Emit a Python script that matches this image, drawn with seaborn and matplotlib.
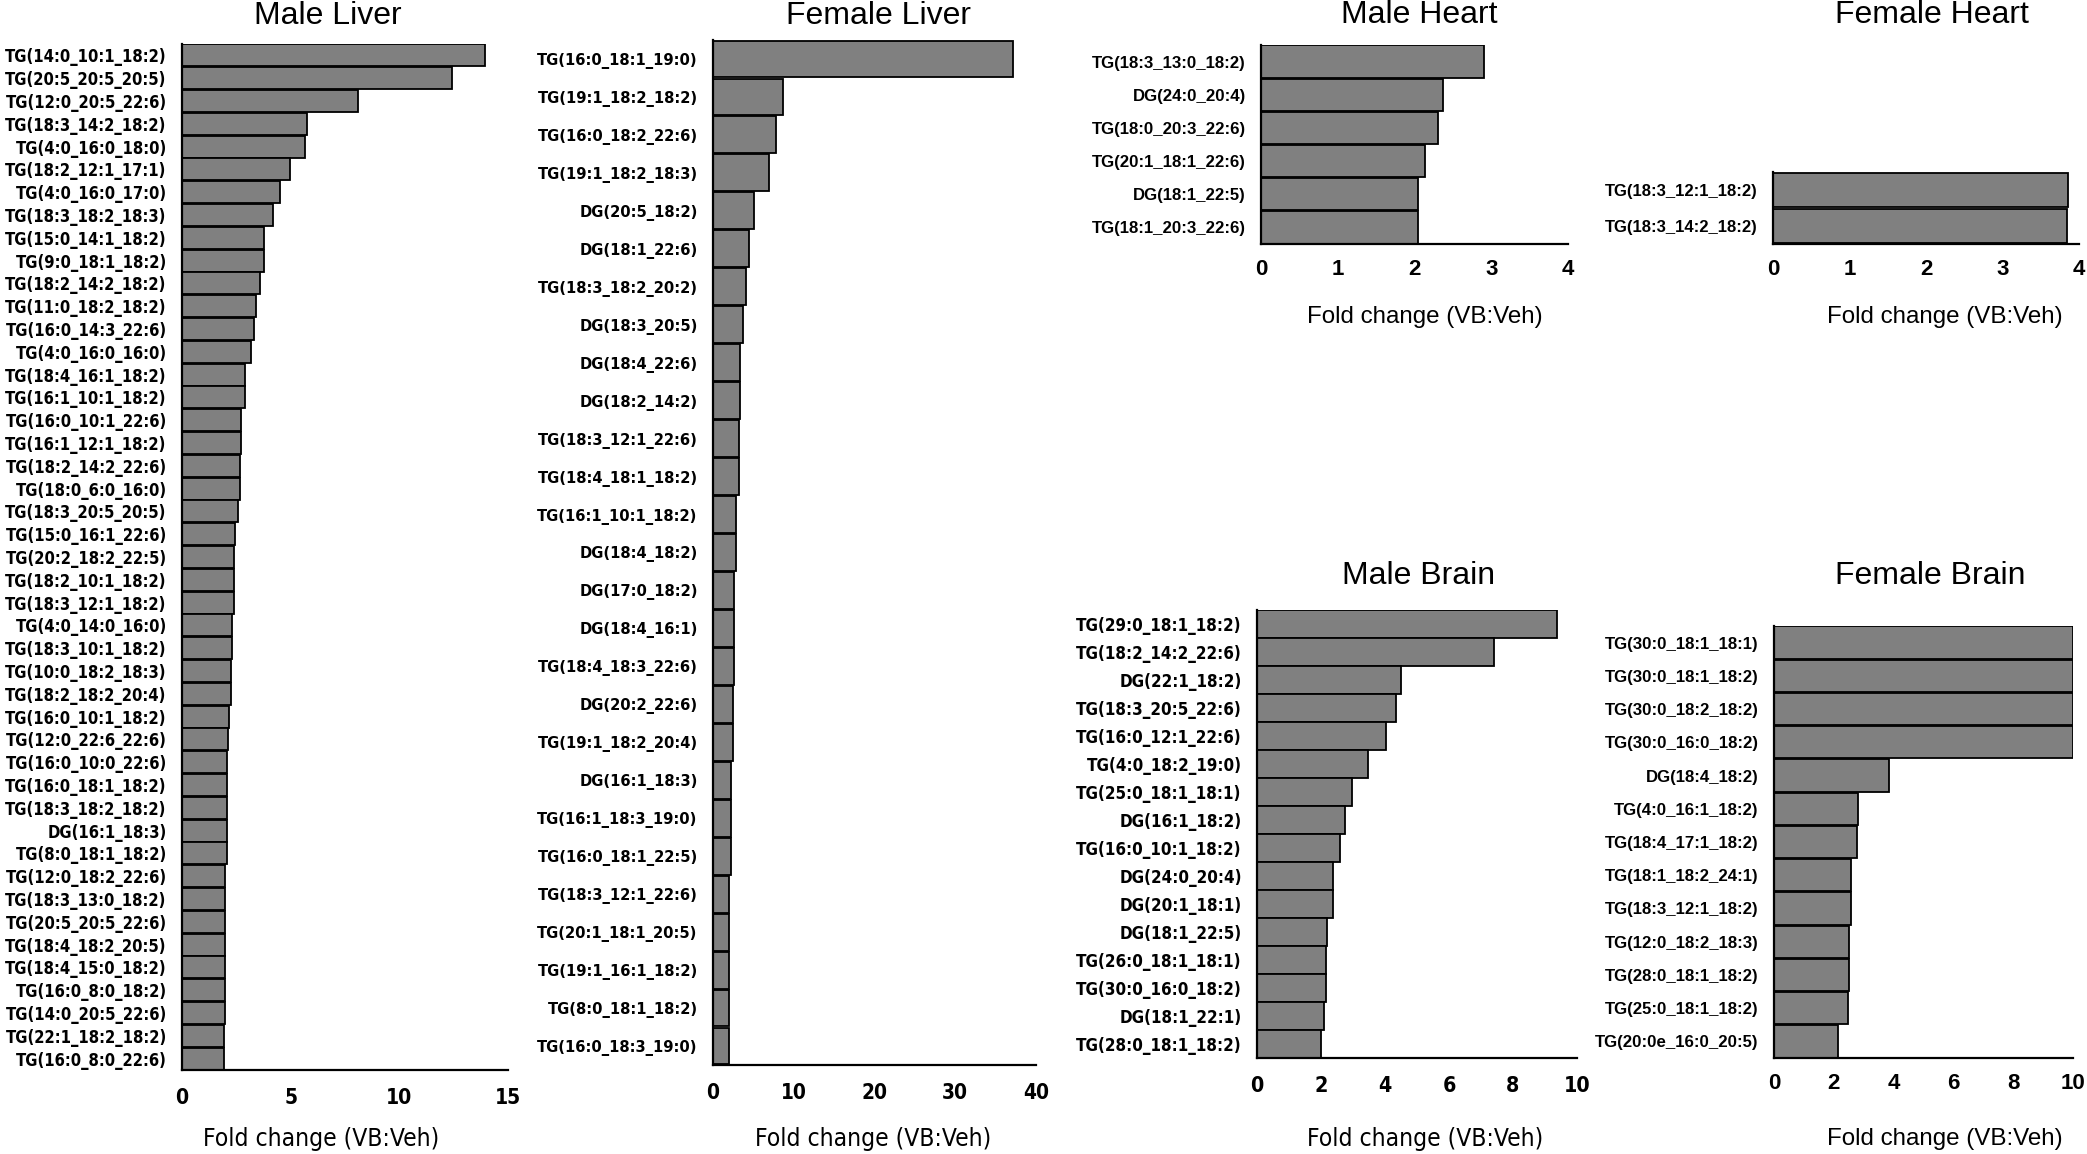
import os
import matplotlib
matplotlib.use("Agg")
import matplotlib.pyplot as plt
from matplotlib import font_manager as fm
import seaborn as sns
import pandas as pd

# ---------------- data ----------------
male_liver_labels = [
    "TG(14:0_10:1_18:2)", "TG(20:5_20:5_20:5)", "TG(12:0_20:5_22:6)", "TG(18:3_14:2_18:2)",
    "TG(4:0_16:0_18:0)", "TG(18:2_12:1_17:1)", "TG(4:0_16:0_17:0)", "TG(18:3_18:2_18:3)",
    "TG(15:0_14:1_18:2)", "TG(9:0_18:1_18:2)", "TG(18:2_14:2_18:2)", "TG(11:0_18:2_18:2)",
    "TG(16:0_14:3_22:6)", "TG(4:0_16:0_16:0)", "TG(18:4_16:1_18:2)", "TG(16:1_10:1_18:2)",
    "TG(16:0_10:1_22:6)", "TG(16:1_12:1_18:2)", "TG(18:2_14:2_22:6)", "TG(18:0_6:0_16:0)",
    "TG(18:3_20:5_20:5)", "TG(15:0_16:1_22:6)", "TG(20:2_18:2_22:5)", "TG(18:2_10:1_18:2)",
    "TG(18:3_12:1_18:2)", "TG(4:0_14:0_16:0)", "TG(18:3_10:1_18:2)", "TG(10:0_18:2_18:3)",
    "TG(18:2_18:2_20:4)", "TG(16:0_10:1_18:2)", "TG(12:0_22:6_22:6)", "TG(16:0_10:0_22:6)",
    "TG(16:0_18:1_18:2)", "TG(18:3_18:2_18:2)", "DG(16:1_18:3)", "TG(8:0_18:1_18:2)",
    "TG(12:0_18:2_22:6)", "TG(18:3_13:0_18:2)", "TG(20:5_20:5_22:6)", "TG(18:4_18:2_20:5)",
    "TG(18:4_15:0_18:2)", "TG(16:0_8:0_18:2)", "TG(14:0_20:5_22:6)", "TG(22:1_18:2_18:2)",
    "TG(16:0_8:0_22:6)",
]
male_liver_values = [
    13.93, 12.42, 8.12, 5.77, 5.64, 4.98, 4.50, 4.19,
    3.75, 3.75, 3.60, 3.41, 3.29, 3.18, 2.88, 2.88,
    2.73, 2.73, 2.65, 2.65, 2.58, 2.45, 2.38, 2.38,
    2.38, 2.32, 2.32, 2.24, 2.24, 2.17, 2.12, 2.05,
    2.05, 2.05, 2.05, 2.05, 1.97, 1.97, 1.97, 1.97,
    1.97, 1.97, 1.97, 1.91, 1.91,
]

female_liver_labels = [
    "TG(16:0_18:1_19:0)", "TG(19:1_18:2_18:2)", "TG(16:0_18:2_22:6)", "TG(19:1_18:2_18:3)",
    "DG(20:5_18:2)", "DG(18:1_22:6)", "TG(18:3_18:2_20:2)", "DG(18:3_20:5)",
    "DG(18:4_22:6)", "DG(18:2_14:2)", "TG(18:3_12:1_22:6)", "TG(18:4_18:1_18:2)",
    "TG(16:1_10:1_18:2)", "DG(18:4_18:2)", "DG(17:0_18:2)", "DG(18:4_16:1)",
    "TG(18:4_18:3_22:6)", "DG(20:2_22:6)", "TG(19:1_18:2_20:4)", "DG(16:1_18:3)",
    "TG(16:1_18:3_19:0)", "TG(16:0_18:1_22:5)", "TG(18:3_12:1_22:6)", "TG(20:1_18:1_20:5)",
    "TG(19:1_16:1_18:2)", "TG(8:0_18:1_18:2)", "TG(16:0_18:3_19:0)",
]
female_liver_values = [
    37.1, 8.66, 7.83, 6.92, 5.06, 4.52, 4.14, 3.73,
    3.40, 3.40, 3.23, 3.23, 2.82, 2.82, 2.61, 2.61,
    2.61, 2.45, 2.45, 2.28, 2.28, 2.28, 2.04, 2.04,
    2.04, 2.04, 2.04,
]

male_heart_labels = [
    "TG(18:3_13:0_18:2)", "DG(24:0_20:4)", "TG(18:0_20:3_22:6)",
    "TG(20:1_18:1_22:6)", "DG(18:1_22:5)", "TG(18:1_20:3_22:6)",
]
male_heart_values = [2.91, 2.37, 2.30, 2.14, 2.04, 2.04]

female_heart_labels = ["TG(18:3_12:1_18:2)", "TG(18:3_14:2_18:2)"]
female_heart_values = [3.86, 3.84]

male_brain_labels = [
    "TG(29:0_18:1_18:2)", "TG(18:2_14:2_22:6)", "DG(22:1_18:2)", "TG(18:3_20:5_22:6)",
    "TG(16:0_12:1_22:6)", "TG(4:0_18:2_19:0)", "TG(25:0_18:1_18:1)", "DG(16:1_18:2)",
    "TG(16:0_10:1_18:2)", "DG(24:0_20:4)", "DG(20:1_18:1)", "DG(18:1_22:5)",
    "TG(26:0_18:1_18:1)", "TG(30:0_16:0_18:2)", "DG(18:1_22:1)", "TG(28:0_18:1_18:2)",
]
male_brain_values = [
    9.38, 7.42, 4.50, 4.33, 4.04, 3.46, 2.96, 2.75,
    2.58, 2.38, 2.38, 2.20, 2.17, 2.17, 2.10, 2.00,
]

female_brain_labels = [
    "TG(30:0_18:1_18:1)", "TG(30:0_18:1_18:2)", "TG(30:0_18:2_18:2)", "TG(30:0_16:0_18:2)",
    "DG(18:4_18:2)", "TG(4:0_16:1_18:2)", "TG(18:4_17:1_18:2)", "TG(18:1_18:2_24:1)",
    "TG(18:3_12:1_18:2)", "TG(12:0_18:2_18:3)", "TG(28:0_18:1_18:2)", "TG(25:0_18:1_18:2)",
    "TG(20:0e_16:0_20:5)",
]
female_brain_values = [
    10.0, 10.0, 10.0, 10.0, 3.84, 2.81, 2.77, 2.59,
    2.59, 2.50, 2.50, 2.46, 2.14,
]

titles = ["Male Liver", "Female Liver", "Male Heart", "Female Heart", "Male Brain", "Female Brain"]
xlabel_text = "Fold change (VB:Veh)"
xticks_list = [[0, 5, 10, 15], [0, 10, 20, 30, 40], [0, 1, 2, 3, 4], [0, 1, 2, 3, 4],
               [0, 2, 4, 6, 8, 10], [0, 2, 4, 6, 8, 10]]

# ---------------- fonts ----------------
sns.set_theme(style="white")
REG = "Liberation Sans"
plt.rcParams["font.family"] = [REG, "DejaVu Sans"]


def _wnum(w):
    if isinstance(w, (int, float)):
        return w
    return fm.weight_dict.get(str(w).lower(), 400)


def find_condensed(bold):
    pref = ["liberation sans narrow", "arial narrow", "dejavu sans", "noto sans",
            "open sans", "roboto", "lato", "inter", "liberation sans"]
    best = None
    for f in fm.fontManager.ttflist:
        nm = f.name.lower()
        fn = os.path.basename(f.fname).lower()
        if any(k in nm for k in ("mono", "serif", "cjk", "math")) or "mono" in fn:
            continue
        if f.style != "normal" or "italic" in fn or "oblique" in fn:
            continue
        st = f.stretch
        cond = ("narrow" in nm or "condensed" in nm or "narrow" in fn or "condensed" in fn
                or "cond" in fn or st in ("condensed", "semi-condensed", "extra-condensed")
                or (isinstance(st, (int, float)) and st < 500))
        if not cond:
            continue
        w = _wnum(f.weight)
        if bold and not (600 <= w <= 750):
            continue
        if not bold and not (380 <= w <= 450):
            continue
        rank = len(pref)
        for k, p in enumerate(pref):
            if nm.startswith(p):
                rank = k
                break
        if best is None or rank < best[0]:
            best = (rank, f.fname)
    return best[1] if best else None


cb = find_condensed(True)
cr = find_condensed(False)
fp_nb = fm.FontProperties(fname=cb) if cb else fm.FontProperties(family=REG, weight="bold")
fp_nr = fm.FontProperties(fname=cr) if cr else fm.FontProperties(family=REG)
fp_b = fm.FontProperties(family=REG, weight="bold")
fp_r = fm.FontProperties(family=REG)

W, H = 2087, 1154
fig = plt.figure(figsize=(W / 100, H / 100), dpi=100)
renderer = fig.canvas.get_renderer()


def fit_size(fp, text, target_px):
    f = fp.copy()
    f.set_size(20)
    t = fig.text(0, 0, text, fontproperties=f)
    w = t.get_window_extent(renderer).width
    t.remove()
    return 20 * target_px / w


# ---------------- layout ----------------
boxes = [
    (182, 508, 44, 1070),
    (713, 1036, 40, 1065),
    (1261, 1568, 45, 244),
    (1773, 2079, 172, 244),
    (1257, 1577, 610, 1058),
    (1774, 2073, 626, 1058),
]
narrow_panel = [True, True, False, False, True, False]
label_width = [162, 160, 153, 152, 165, 154]
title_pos = [(328, 16), (879, 16), (1419, 15), (1932, 15), (1419, 576), (1930, 576)]
xlabel_pos = [(321, 1139), (873, 1139), (1425, 317), (1945, 317), (1425, 1139), (1945, 1139)]

data = [
    (male_liver_labels, male_liver_values),
    (female_liver_labels, female_liver_values),
    (male_heart_labels, male_heart_values),
    (female_heart_labels, female_heart_values),
    (male_brain_labels, male_brain_values),
    (female_brain_labels, female_brain_values),
]

xl_narrow_size = fit_size(fp_nr, xlabel_text, 236)
xl_reg_size = fit_size(fp_r, xlabel_text, 236)

for i, ((labs, vals), (l, r, t, b)) in enumerate(zip(data, boxes)):
    ax = fig.add_axes([l / W, 1 - b / H, (r - l) / W, (b - t) / H])
    n = len(labs)
    df = pd.DataFrame({"row": [f"r{k:02d}" for k in range(n)], "fold": vals})
    sns.barplot(data=df, x="fold", y="row", orient="h", color="#808080",
                saturation=1, edgecolor="black", linewidth=1.3, width=0.97, ax=ax)
    ticks = xticks_list[i]
    ax.set_xlim(0, ticks[-1])
    ax.set_ylim(n - 0.5, -0.5)
    ax.set_xticks(ticks)
    ax.set_yticks(range(n))
    ax.set_xlabel("")
    ax.set_ylabel("")
    for s in ["top", "right"]:
        ax.spines[s].set_visible(False)
    for s in ["left", "bottom"]:
        ax.spines[s].set_color("black")
        ax.spines[s].set_linewidth(1.6)
    ax.tick_params(axis="both", length=0)
    ax.tick_params(axis="y", pad=11)

    longest = labs[0]
    if narrow_panel[i]:
        yfp = fp_nb.copy()
        ysize = fit_size(fp_nb, longest, label_width[i])
        xfp = fp_nb.copy()
        xsize = ysize * 1.27
        xpad = 13
    else:
        yfp = fp_b.copy()
        ysize = fit_size(fp_b, longest, label_width[i])
        xfp = fp_b.copy()
        xsize = 16
        xpad = 11
    yfp.set_size(ysize)
    xfp.set_size(xsize)
    ax.set_yticklabels(labs, fontproperties=yfp, color="black")
    ax.tick_params(axis="x", pad=xpad)
    ax.set_xticklabels([str(v) for v in ticks], fontproperties=xfp, color="black")
    ax.set_facecolor("white")

    tx, ty = title_pos[i]
    fig.text(tx / W, 1 - ty / H, titles[i], ha="center", va="center",
             fontsize=23, family=REG, color="black")
    lx, ly = xlabel_pos[i]
    if narrow_panel[i]:
        f = fp_nr.copy()
        f.set_size(xl_narrow_size)
    else:
        f = fp_r.copy()
        f.set_size(xl_reg_size)
    fig.text(lx / W, 1 - ly / H, xlabel_text, ha="center", va="center",
             fontproperties=f, color="black")

fig.savefig("out.png", dpi=100, facecolor="white")
